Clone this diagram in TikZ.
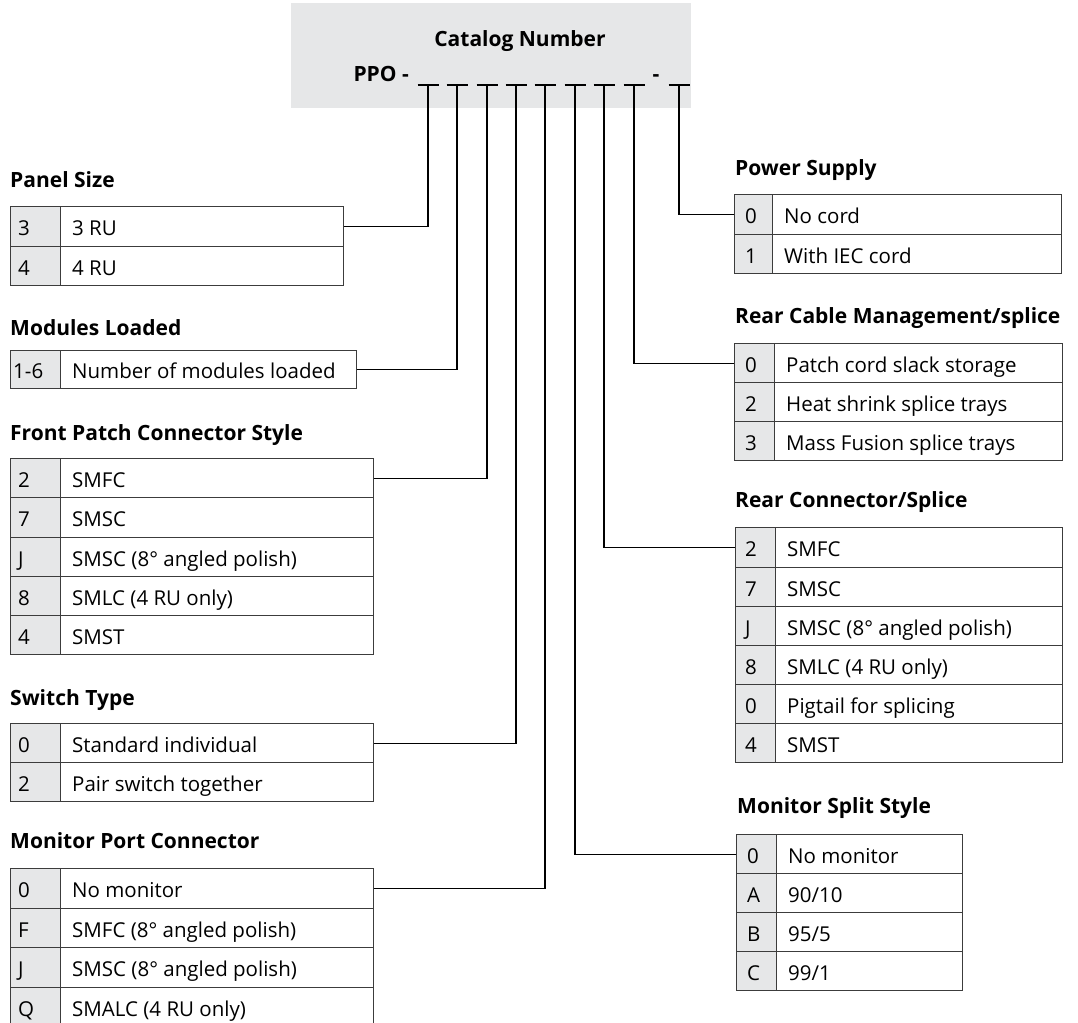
\documentclass[tikz,border=0pt]{standalone}
\usepackage{fontspec}
\setmainfont{Open Sans}
\definecolor{cellgray}{HTML}{E6E7E8}
\definecolor{headgray}{HTML}{E6E7E8}
\definecolor{bordercol}{HTML}{3C3C3C}
\tikzset{
  cellbox/.style={draw=bordercol, line width=1.3pt, inner sep=0pt, anchor=north west},
  numcell/.style={cellbox, fill=cellgray},
  txtcell/.style={cellbox, fill=white},
  celltext/.style={anchor=base west, inner sep=0pt, font=\fontsize{20.5}{24}\selectfont},
  head/.style={anchor=base west, inner sep=0pt, font=\fontsize{21}{25}\selectfont\bfseries},
  link/.style={draw=black, line width=1.3pt},
  uline/.style={draw=black, line width=1.1pt},
}
% name, x0, xdiv, x1, ytop, ybot, number, text, number padding
\newcommand\optrow[9]{%
  \node[numcell, minimum width={#3-#2}, minimum height={#6-#5}] (#1n) at (#2,#5) {};
  \node[txtcell, minimum width={#4-#3}, minimum height={#6-#5}] (#1d) at (#3,#5) {};
  \node[celltext] (#1nt) at ([xshift=#9pt,yshift=-9pt]#1n.west) {#7};
  \node[celltext] (#1dt) at ([xshift=12pt,yshift=-9pt]#1d.west) {#8};
}
\begin{document}
\begin{tikzpicture}[x=1pt,y=-1pt]
\useasboundingbox (0,0) rectangle (1078,1022);

% header
\node[fill=headgray, anchor=north west, minimum width=400, minimum height=105, inner sep=0pt] (hdr) at (291,3) {};
\node[inner sep=0pt, anchor=base, font=\fontsize{21}{25}\selectfont\bfseries] (cat) at (520,47) {Catalog Number};
\node[inner sep=0pt, anchor=base east, font=\fontsize{21}{25}\selectfont\bfseries] (ppo) at (409,82) {PPO -};
\node[inner sep=0pt, anchor=base, font=\fontsize{21}{25}\selectfont\bfseries] (dash) at (656,82) {-};

\foreach \i/\x in {1/428,2/457,3/487,4/516,5/545,6/575,7/604,8/634,9/679}{
  \coordinate (u\i) at (\x,85);
  \draw[uline] (\x-10.5,85) -- (\x+10.5,85);
}

% left column
\node[head] (hps) at (10,187) {Panel Size};
\optrow{ps1}{10}{60}{343}{206}{246}{3}{3 RU}{8}
\optrow{ps2}{10}{60}{343}{246}{285}{4}{4 RU}{8}

\node[head] (hml) at (10,335) {Modules Loaded};
\optrow{ml1}{10}{60}{356}{350}{388}{1-6}{Number of modules loaded}{3}

\node[head] (hfp) at (10,440) {Front Patch Connector Style};
\optrow{fp1}{10}{60}{373}{458}{497}{2}{SMFC}{8}
\optrow{fp2}{10}{60}{373}{497}{537}{7}{SMSC}{8}
\optrow{fp3}{10}{60}{373}{537}{576}{J}{SMSC (8° angled polish)}{8}
\optrow{fp4}{10}{60}{373}{576}{615}{8}{SMLC (4 RU only)}{8}
\optrow{fp5}{10}{60}{373}{615}{654}{4}{SMST}{8}

\node[head] (hst) at (10,705) {Switch Type};
\optrow{st1}{10}{60}{373}{723}{762}{0}{Standard individual}{8}
\optrow{st2}{10}{60}{373}{762}{801}{2}{Pair switch together}{8}

\node[head] (hmp) at (10,848) {Monitor Port Connector};
\optrow{mp1}{10}{60}{373}{868}{908}{0}{No monitor}{8}
\optrow{mp2}{10}{60}{373}{908}{947}{F}{SMFC (8° angled polish)}{8}
\optrow{mp3}{10}{60}{373}{947}{987}{J}{SMSC (8° angled polish)}{8}
\optrow{mp4}{10}{60}{373}{987}{1027}{Q}{SMALC (4 RU only)}{8}

% right column
\node[head] (hpw) at (735,175) {Power Supply};
\optrow{pw1}{734}{772}{1061}{194}{234}{0}{No cord}{11}
\optrow{pw2}{734}{772}{1061}{234}{273}{1}{With IEC cord}{11}

\node[head] (hrc) at (735,323) {Rear Cable Management/splice};
\optrow{rc1}{734}{774}{1062}{343}{382}{0}{Patch cord slack storage}{11}
\optrow{rc2}{734}{774}{1062}{382}{421}{2}{Heat shrink splice trays}{11}
\optrow{rc3}{734}{774}{1062}{421}{460}{3}{Mass Fusion splice trays}{11}

\node[head] (hrs) at (735,507) {Rear Connector/Splice};
\optrow{rs1}{735}{775}{1062}{527}{567}{2}{SMFC}{10}
\optrow{rs2}{735}{775}{1062}{567}{606}{7}{SMSC}{10}
\optrow{rs3}{735}{775}{1062}{606}{645}{J}{SMSC (8° angled polish)}{10}
\optrow{rs4}{735}{775}{1062}{645}{684}{8}{SMLC (4 RU only)}{10}
\optrow{rs5}{735}{775}{1062}{684}{723}{0}{Pigtail for splicing}{10}
\optrow{rs6}{735}{775}{1062}{723}{762}{4}{SMST}{10}

\node[head] (hms) at (737,813) {Monitor Split Style};
\optrow{ms1}{736}{776}{962}{834}{873}{0}{No monitor}{11}
\optrow{ms2}{736}{776}{962}{873}{912}{A}{90/10}{11}
\optrow{ms3}{736}{776}{962}{912}{951}{B}{95/5}{11}
\optrow{ms4}{736}{776}{962}{951}{990}{C}{99/1}{11}

% connectors
\draw[link] (u1) |- (ps1d.east);
\draw[link] (u2) |- (ml1d.east);
\draw[link] (u3) |- (fp1d.east);
\draw[link] (u4) |- (st1d.east);
\draw[link] (u5) |- (mp1d.east);
\draw[link] (u6) |- (ms1n.west);
\draw[link] (u7) |- (rs1n.west);
\draw[link] (u8) |- (rc1n.west);
\draw[link] (u9) |- (pw1n.west);
\end{tikzpicture}
\end{document}
